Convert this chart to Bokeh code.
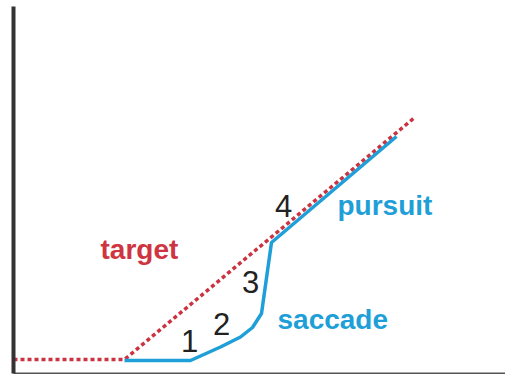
from bokeh.plotting import figure
from bokeh.models import Range1d, LinearAxis, FixedTicker, ColumnDataSource
from bokeh.core.properties import value
from bokeh.embed import file_html
from bokeh.resources import INLINE

# time (x) and position (y) samples
target_t = [0, 111, 400]
target_pos = [14, 14, 255]

eye_t = [111, 177, 187, 207, 227, 239, 248, 258, 383]
eye_pos = [13, 13, 17.5, 26.5, 36.5, 46, 60, 131, 237]

label_text = ["target", "pursuit", "saccade"]
label_t = [87, 324, 264]
label_pos = [124, 168, 54]
label_color = ["#cf3540", "#1f9fd8", "#1f9fd8"]

phase_text = ["1", "2", "3", "4"]
phase_t = [176, 208, 237, 270]
phase_pos = [33, 50, 92, 168]

p = figure(width=505, height=374, output_backend="svg", toolbar_location=None,
           x_axis_type=None, y_axis_type=None,
           x_range=Range1d(0, 492), y_range=Range1d(0, 367),
           min_border_left=13, min_border_right=0, min_border_top=6, min_border_bottom=1)
p.outline_line_color = None
p.grid.visible = False
p.background_fill_color = "white"
p.border_fill_color = "white"

def bare_axis(color, width):
    ax = LinearAxis(ticker=FixedTicker(ticks=[]), axis_line_color=color, axis_line_width=width,
                    major_tick_in=0, major_tick_out=0, minor_tick_in=0, minor_tick_out=0,
                    major_label_text_font_size="0px", major_label_standoff=0, axis_label=None)
    return ax

p.add_layout(bare_axis("#333333", 4), "left")
p.add_layout(bare_axis("#555555", 2), "below")

p.line(target_t, target_pos, line_color="#cc3340", line_width=3.5, line_dash="4 3")
p.line(eye_t, eye_pos, line_color="#1f9fd8", line_width=3.5, line_join="round")

src = ColumnDataSource(dict(x=label_t, y=label_pos, text=label_text, color=label_color))
p.text(x="x", y="y", text="text", text_color="color", source=src,
       text_font=value("Liberation Sans"), text_font_style="bold", text_font_size="28px",
       text_align="left", text_baseline="alphabetic")

src2 = ColumnDataSource(dict(x=phase_t, y=phase_pos, text=phase_text))
p.text(x="x", y="y", text="text", text_color="#222222", source=src2,
       text_font=value("Liberation Sans"), text_font_size="31px",
       text_align="center", text_baseline="alphabetic")

open("out.html", "w").write(file_html(p, INLINE))
